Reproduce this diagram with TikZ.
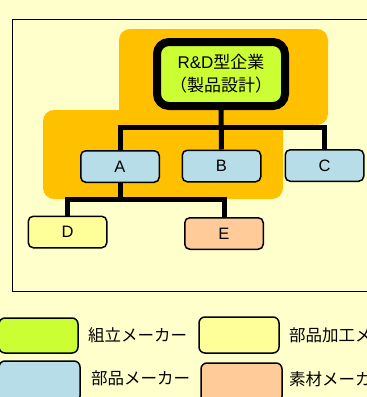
\documentclass[tikz,border=0pt]{standalone}
\usepackage{fontspec}
\setmainfont{Liberation Sans}
\newfontfamily\cjk{Noto Sans CJK JP}
\definecolor{bgc}{HTML}{FFFFCC}
\definecolor{orng}{HTML}{FFC000}
\definecolor{grn}{HTML}{CCFF33}
\definecolor{lblue}{HTML}{B7DEE8}
\definecolor{lyel}{HTML}{FFFF99}
\definecolor{peach}{HTML}{FFCC99}
\tikzset{
  box/.style={draw=black, line width=1.5pt, rounded corners=5pt, minimum width=78.5pt, minimum height=31.5pt, inner sep=0pt, font=\fontsize{16.5}{18}\selectfont},
  conn/.style={draw=black, line width=5pt},
  legbox/.style={draw=black, line width=1.5pt, rounded corners=6pt},
  legtxt/.style={anchor=west, inner sep=0pt, font=\cjk\fontsize{16.5}{18}\selectfont},
}
\begin{document}
\begin{tikzpicture}[x=1pt, y=-1pt]
\useasboundingbox (0,0) rectangle (367,397);
\clip (0,0) rectangle (367,397);
\fill[bgc] (0,0) rectangle (367,397);
\draw[line width=1pt] (12,19) rectangle (420,291);
% orange background
\fill[orng, rounded corners=11pt] (119,29) rectangle (328,125);
\fill[orng, rounded corners=11pt] (43,110) rectangle (283,199);
% main box
\node[draw=black, fill=grn, line width=8pt, rounded corners=12pt, minimum width=128pt, minimum height=64pt, inner sep=0pt, align=center, font=\fontsize{17}{23}\selectfont] (main) at (221,74) {R\&D{\cjk 型企業}\\{\cjk （製品設計）}};
% level 1
\node[box, fill=lblue] (A) at (120,166.5) {A};
\node[box, fill=lblue] (B) at (221.5,166) {B};
\node[box, fill=lblue] (C) at (324.5,165.5) {C};
% level 2
\node[box, fill=lyel] (D) at (67.5,232) {D};
\node[box, fill=peach] (E) at (224,233.5) {E};
% connectors
\coordinate (bar) at (221,127.5);
\coordinate (lowbar) at (120,199.5);
\draw[conn] (main.south) -- (B.north);
\draw[conn] (A.north) |- (C.north |- bar) -- (C.north);
\draw[conn] (A.south) -- (lowbar);
\draw[conn] (D.north) |- (E.north |- lowbar) -- (E.north);
% legend
\draw[legbox, fill=grn] (-1,318) rectangle (78,353);
\node[legtxt] (l1) at (88,335.5) {組立メーカー};
\draw[legbox, fill=lyel] (199,317) rectangle (279,353);
\node[legtxt] (l2) at (289,335.5) {部品加工メーカー};
\draw[legbox, fill=lblue] (-1,361) rectangle (80,402);
\node[legtxt] (l3) at (91,378.5) {部品メーカー};
\draw[legbox, fill=peach] (201,363) rectangle (282,402);
\node[legtxt] (l4) at (289,379) {素材メーカー};
\end{tikzpicture}
\end{document}
